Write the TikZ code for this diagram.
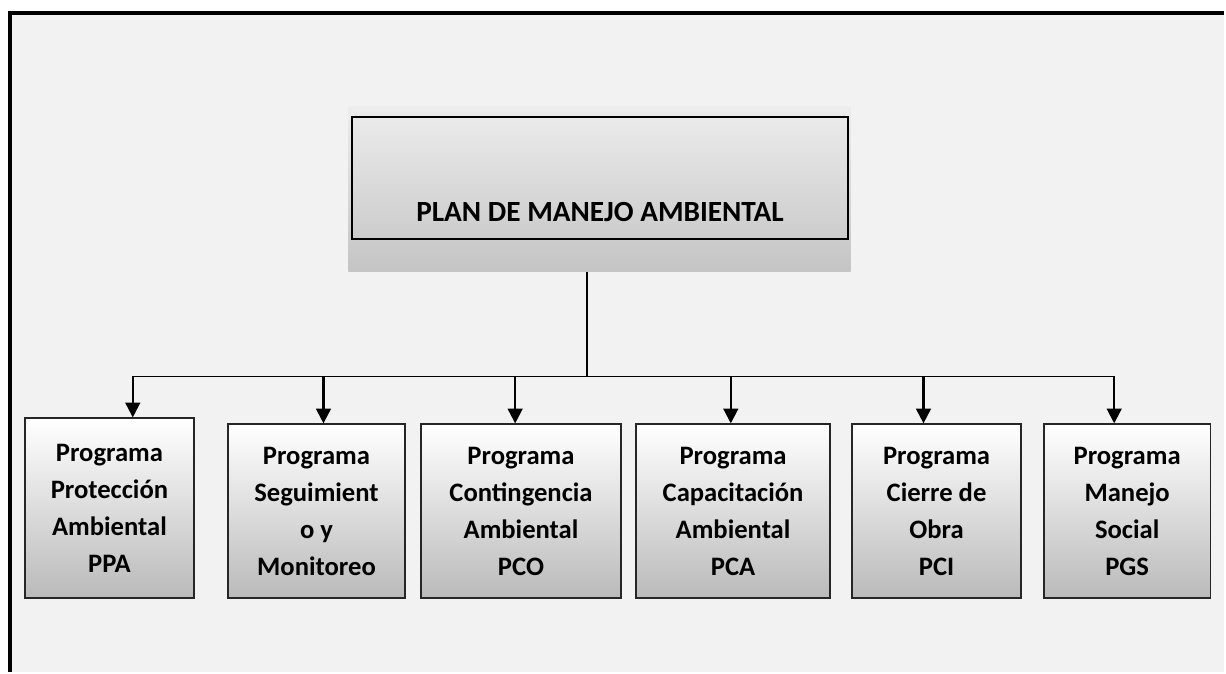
\documentclass[tikz,border=0pt]{standalone}
\usepackage{fontspec}
\setmainfont{Carlito}
\usetikzlibrary{arrows.meta,positioning}

\definecolor{fondo}{HTML}{F2F2F2}
\definecolor{grisclaro}{HTML}{EDEDED}
\definecolor{grisoscuro}{HTML}{C4C4C4}
\definecolor{grisprog}{HTML}{BABABA}

\begin{document}
\begin{tikzpicture}[x=0.75pt,y=-0.75pt,
  programa/.style={draw=black!85,line width=1.4pt,top color=white,bottom color=grisprog,
    minimum height=130.5pt,align=center,inner sep=0pt,
    font=\bfseries\fontsize{20}{27.75}\selectfont},
  linea/.style={line width=1.3pt},
  flecha/.style={line width=1.6pt,-{Triangle[length=11pt,width=11pt]}}]

  % hoja
  \fill[white] (0,0) rectangle (1226,673);
  \fill[fondo] (10,13) rectangle (1226,673);
  \draw[line width=3pt] (10,673) -- (10,13) -- (1226,13);

  % plan
  \node[top color=grisclaro,bottom color=grisoscuro,minimum width=377.25pt,minimum height=123.75pt,inner sep=0pt] (marco) at (600.5,189.5) {};
  \node[draw,line width=1.4pt,minimum width=372pt,inner sep=0pt,text height=78.75pt,text depth=12.75pt,
    font=\bfseries\fontsize{22}{26}\selectfont] (plan) at (601,178) {PLAN DE MANEJO AMBIENTAL};

  % programas
  \node[programa,minimum width=133.5pt] (p2) at (317,512) {Programa\\Seguimient\\o y\\Monitoreo};
  \node[programa,minimum width=126.75pt,minimum height=135pt,left=24pt of p2.south west,anchor=south east] (p1) {Programa\\Protección\\Ambiental\\PPA};
  \node[programa,minimum width=150pt,right=10.5pt of p2] (p3) {Programa\\Contingencia\\Ambiental\\PCO};
  \node[programa,minimum width=146.25pt,right=9.75pt of p3] (p4) {Programa\\Capacitación\\Ambiental\\PCA};
  \node[programa,minimum width=126.75pt,right=15pt of p4] (p5) {Programa\\Cierre de\\Obra\\PCI};
  \node[programa,minimum width=125.25pt,right=15.75pt of p5] (p6) {Programa\\Manejo\\Social\\PGS};

  % conexiones
  \coordinate (tronco) at (588,377);
  \coordinate (a1) at (133,377);
  \coordinate (a2) at (324,377);
  \coordinate (a3) at (516,377);
  \coordinate (a4) at (732,377);
  \coordinate (a5) at (925,377);
  \coordinate (a6) at (1116,377);

  \draw[linea] (tronco |- marco.south) -- (tronco);
  \draw[linea] (a1) -- (a6);
  \foreach \i in {1,...,6}
    \draw[flecha] (a\i) -- (a\i |- p\i.north);

\end{tikzpicture}
\end{document}
